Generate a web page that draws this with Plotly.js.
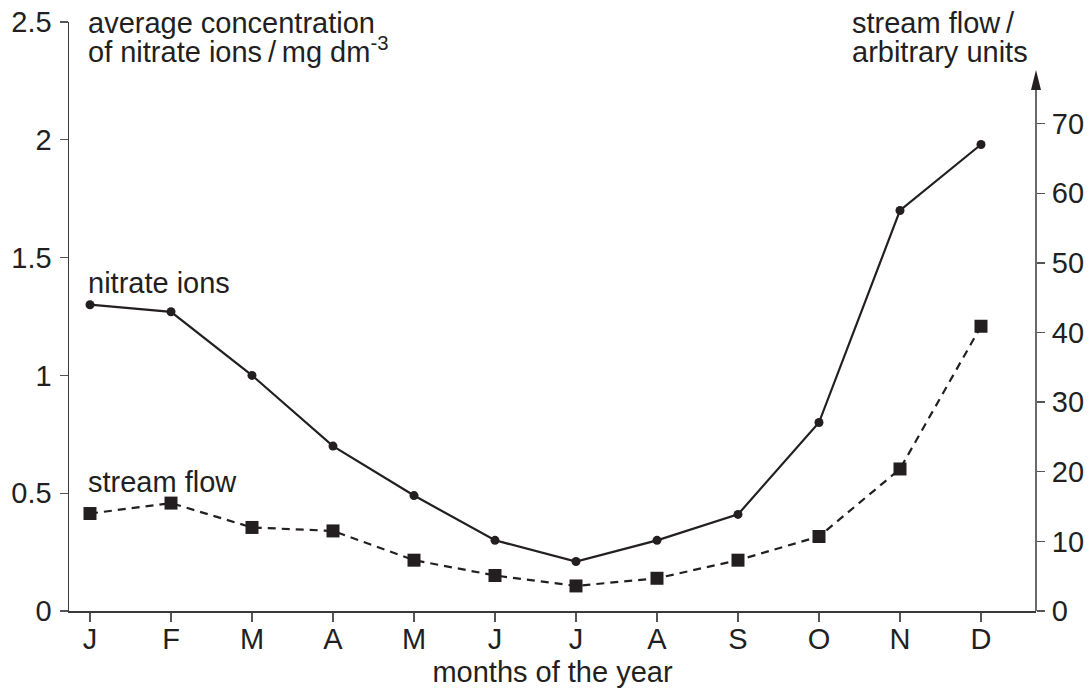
<!DOCTYPE html>
<html>
<head>
<meta charset="utf-8">
<script src="https://cdn.plot.ly/plotly-3.0.1.min.js"></script>
<style>
html,body{margin:0;padding:0;background:#fff;}
#chart{width:1092px;height:692px;}
</style>
</head>
<body>
<div id="chart"></div>
<script>
// ---- data ----
const monthLabels = ['J','F','M','A','M','J','J','A','S','O','N','D'];
const nitrateConc = [1.30, 1.27, 1.00, 0.70, 0.49, 0.30, 0.21, 0.30, 0.41, 0.80, 1.70, 1.98];
const streamFlow = [14.0, 15.5, 12.0, 11.5, 7.3, 5.1, 3.6, 4.7, 7.3, 10.7, 20.4, 40.9];
const leftTicks = [0, 0.5, 1, 1.5, 2, 2.5];
const leftTickText = ['0', '0.5', '1', '1.5', '2', '2.5'];
const rightTicks = [0, 10, 20, 30, 40, 50, 60, 70];

const monthIdx = monthLabels.map((_, i) => i);

const ink = '#231f20';
const axisCol = '#3a3a3a';
const FONT = 'Liberation Sans, Arial, Helvetica, sans-serif';
const FS = 29;

const W = 1092, H = 692;
const L = 69, R = 1036, T = 22, B = 611;
const px2x = p => (p - L) / (R - L);
const px2y = p => (B - p) / (B - T);

const traces = [
  {
    x: monthIdx, y: nitrateConc, type: 'scatter', mode: 'lines+markers',
    line: {color: ink, width: 2.2},
    marker: {symbol: 'circle', size: 9, color: ink},
    yaxis: 'y', hoverinfo: 'skip', cliponaxis: false
  },
  {
    x: monthIdx, y: streamFlow, type: 'scatter', mode: 'lines+markers',
    line: {color: ink, width: 2.2, dash: '8px,6px'},
    marker: {symbol: 'square', size: 13, color: ink},
    yaxis: 'y2', hoverinfo: 'skip', cliponaxis: false
  }
];

const rightTop = 84.6;
const layout = {
  width: W, height: H,
  paper_bgcolor: '#fff', plot_bgcolor: '#fff',
  showlegend: false,
  font: {family: FONT, size: FS, color: ink},
  margin: {l: L, r: W - R, t: T, b: H - B, pad: 0},
  xaxis: {
    range: [(L - 90) / 81, (R - 90) / 81],
    tickvals: monthIdx, ticktext: monthLabels,
    showgrid: false, zeroline: false,
    showline: true, linecolor: axisCol, linewidth: 1.5,
    ticks: 'outside', ticklen: 9, tickwidth: 1.3, tickcolor: '#555',
    tickfont: {family: FONT, size: FS, color: ink},
    ticklabelstandoff: -7,
    title: {text: 'months of the year', font: {family: FONT, size: FS, color: ink}, standoff: 7}
  },
  yaxis: {
    range: [0, 2.5],
    tickvals: leftTicks, ticktext: leftTickText,
    showgrid: false, zeroline: false,
    showline: true, linecolor: axisCol, linewidth: 1.5,
    ticks: 'outside', ticklen: 8, tickwidth: 1.3, tickcolor: '#555',
    tickfont: {family: FONT, size: FS, color: ink},
    ticklabelstandoff: 2
  },
  yaxis2: {
    range: [0, rightTop], overlaying: 'y', side: 'right',
    tickvals: rightTicks,
    showgrid: false, zeroline: false, showline: false,
    ticks: 'outside', ticklen: 8, tickwidth: 1.3, tickcolor: '#555',
    tickfont: {family: FONT, size: FS, color: ink},
    ticklabelstandoff: 1
  },
  shapes: [
    {type: 'line', xref: 'paper', yref: 'paper', x0: 1, x1: 1, y0: 0, y1: px2y(88),
     line: {color: axisCol, width: 1.5}},
    {type: 'path', xref: 'paper', yref: 'paper',
     path: `M ${px2x(R - 5)} ${px2y(90)} L ${px2x(R)} ${px2y(70)} L ${px2x(R + 5)} ${px2y(90)} Z`,
     fillcolor: ink, line: {color: ink, width: 0}}
  ],
  annotations: [
    {text: 'average concentration', xref: 'paper', yref: 'paper', x: px2x(86), y: px2y(23),
     xanchor: 'left', yanchor: 'middle', showarrow: false},
    {text: 'of nitrate ions\u2009/\u2009mg dm<sup>-3</sup>', xref: 'paper', yref: 'paper', x: px2x(86), y: px2y(50),
     xanchor: 'left', yanchor: 'middle', showarrow: false},
    {text: 'stream flow\u2009/', xref: 'paper', yref: 'paper', x: px2x(850), y: px2y(23),
     xanchor: 'left', yanchor: 'middle', showarrow: false},
    {text: 'arbitrary units', xref: 'paper', yref: 'paper', x: px2x(850), y: px2y(52),
     xanchor: 'left', yanchor: 'middle', showarrow: false},
    {text: 'nitrate ions', xref: 'paper', yref: 'paper', x: px2x(86), y: px2y(283),
     xanchor: 'left', yanchor: 'middle', showarrow: false},
    {text: 'stream flow', xref: 'paper', yref: 'paper', x: px2x(86), y: px2y(482),
     xanchor: 'left', yanchor: 'middle', showarrow: false}
  ]
};

Plotly.newPlot('chart', traces, layout, {staticPlot: true, displayModeBar: false});
</script>
</body>
</html>
